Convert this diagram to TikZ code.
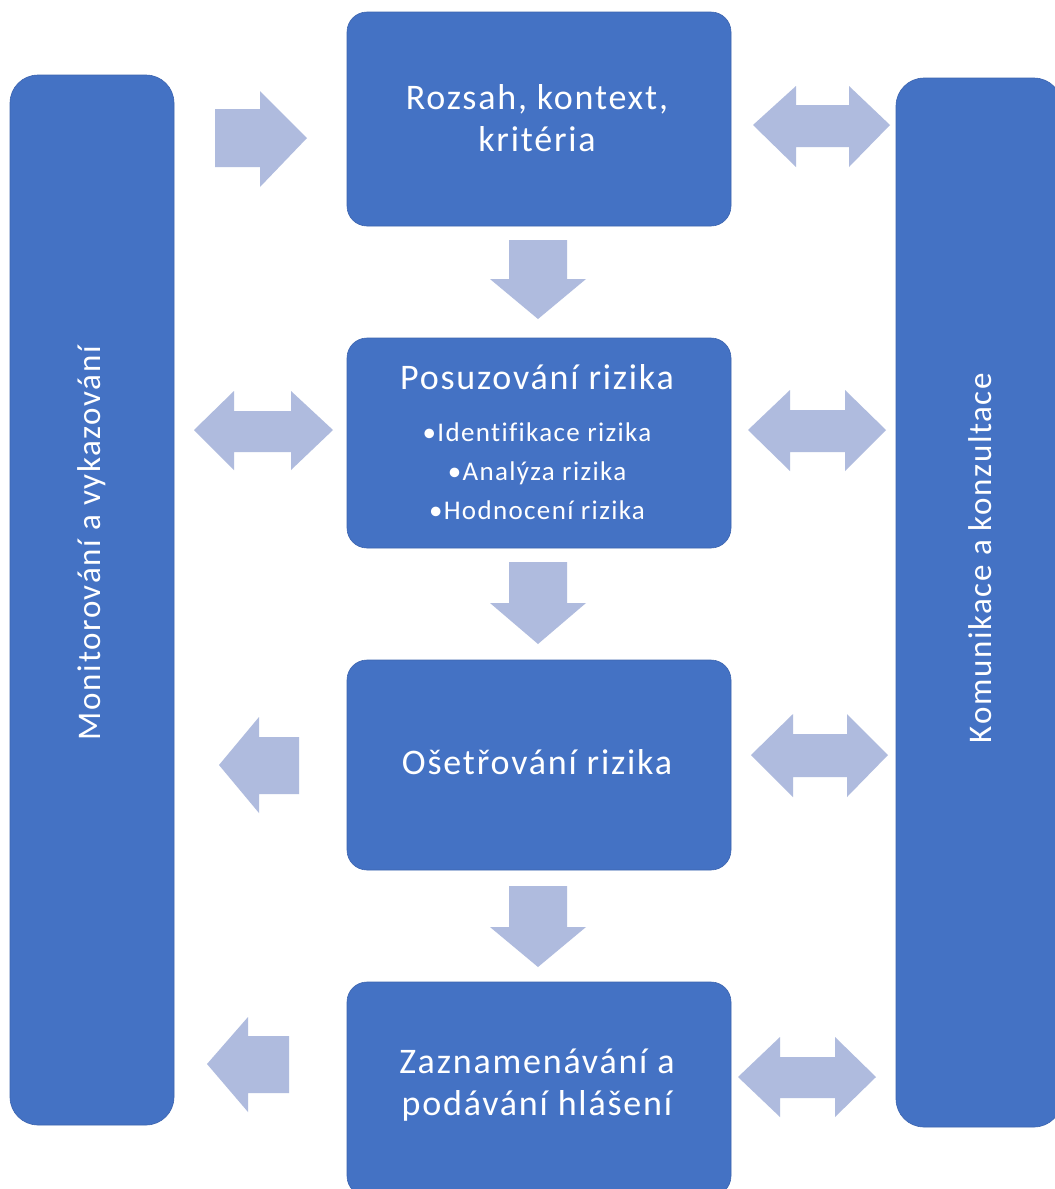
\documentclass[tikz,border=0pt]{standalone}
\usepackage{fontspec}
\setmainfont{Carlito}
\newfontfamily\widefont[LetterSpace=5,Ligatures=NoCommon]{Carlito}
\definecolor{boxblue}{RGB}{68,114,196}
\definecolor{boxedge}{RGB}{60,100,175}
\definecolor{arrowc}{RGB}{175,187,222}
\begin{document}
\begin{tikzpicture}[x=1pt,y=-1pt,
  box/.style={draw=boxedge,line width=0.6pt,fill=boxblue,rounded corners=20pt,inner sep=0pt},
  sidebar/.style={draw=boxedge,line width=0.6pt,fill=boxblue,rounded corners=28pt,inner sep=0pt},
  boxtext/.style={text=white,align=center,font=\widefont\fontsize{36}{42}\selectfont},
  smalltext/.style={text=white,align=center,font=\widefont\fontsize{27}{39}\selectfont},
  sidetext/.style={text=white,font=\widefont\fontsize{33}{35}\selectfont,rotate=90},
  blockarrow/.style={fill=arrowc,draw=none}]
\clip (0,0) rectangle (1055,1189);
\fill[white] (0,0) rectangle (1055,1189);

% side bars
\node[sidebar,minimum width=164pt,minimum height=1050pt] (mon) at (92,600) {};
\node[sidebar,minimum width=166pt,minimum height=1049pt] (kom) at (979,602.5) {};
\node[sidetext] (montext) at (92,543) {Monitorování a vykazování};
\node[sidetext] (komtext) at (980,558) {Komunikace a konzultace};

% central boxes
\node[box,minimum width=384pt,minimum height=214pt] (b1) at (539,119) {};
\node[box,minimum width=384pt,minimum height=210pt] (b2) at (539,443) {};
\node[box,minimum width=384pt,minimum height=210pt] (b3) at (539,765) {};
\node[box,minimum width=384pt,minimum height=214pt] (b4) at (539,1089) {};

\node[boxtext] (t1) at (537,118) {Rozsah, kontext,\\kritéria};
\node[boxtext] (t2a) at (537,377) {Posuzování rizika};
\node[smalltext] (t2b) at (537,471) {•Identifikace rizika\\•Analýza rizika\\•Hodnocení rizika};
\node[boxtext] (t3) at (537,762) {Ošetřování rizika};
\node[boxtext] (t4) at (537,1085) {Zaznamenávání a\\podávání hlášení};

% down arrows
\fill[blockarrow] (509,240) -- (567,240) -- (567,279) -- (586,279) -- (538,319) -- (490,279) -- (509,279) -- cycle;
\fill[blockarrow] (509,562) -- (567,562) -- (567,603) -- (586,603) -- (538,644) -- (490,603) -- (509,603) -- cycle;
\fill[blockarrow] (509,886) -- (567,886) -- (567,927) -- (586,927) -- (538,967) -- (490,927) -- (509,927) -- cycle;

% left side arrows
\fill[blockarrow] (215,109) -- (260,109) -- (260,91) -- (307,138) -- (260,187) -- (260,167) -- (215,167) -- cycle;
\fill[blockarrow] (194,430) -- (234,391) -- (234,411) -- (291,411) -- (291,391) -- (333,430) -- (291,470) -- (291,452) -- (234,452) -- (234,470) -- cycle;
\fill[blockarrow] (219,765) -- (259,717) -- (259,737) -- (299,737) -- (299,794) -- (259,794) -- (259,813) -- cycle;
\fill[blockarrow] (207,1064) -- (248,1017) -- (248,1036) -- (289,1036) -- (289,1093) -- (248,1093) -- (248,1112) -- cycle;

% right side double arrows
\fill[blockarrow] (753,125) -- (796,86) -- (796,105) -- (849,105) -- (849,86) -- (890,125) -- (849,167) -- (849,147) -- (796,147) -- (796,167) -- cycle;
\fill[blockarrow] (748,430) -- (790,390) -- (790,410) -- (845,410) -- (845,390) -- (886,430) -- (845,471) -- (845,452) -- (790,452) -- (790,471) -- cycle;
\fill[blockarrow] (751,755) -- (793,714) -- (793,734) -- (847,734) -- (847,714) -- (888,755) -- (847,797) -- (847,777) -- (793,777) -- (793,797) -- cycle;
\fill[blockarrow] (738,1077) -- (780,1037) -- (780,1057) -- (835,1057) -- (835,1037) -- (876,1077) -- (835,1117) -- (835,1098) -- (780,1098) -- (780,1117) -- cycle;
\end{tikzpicture}
\end{document}
